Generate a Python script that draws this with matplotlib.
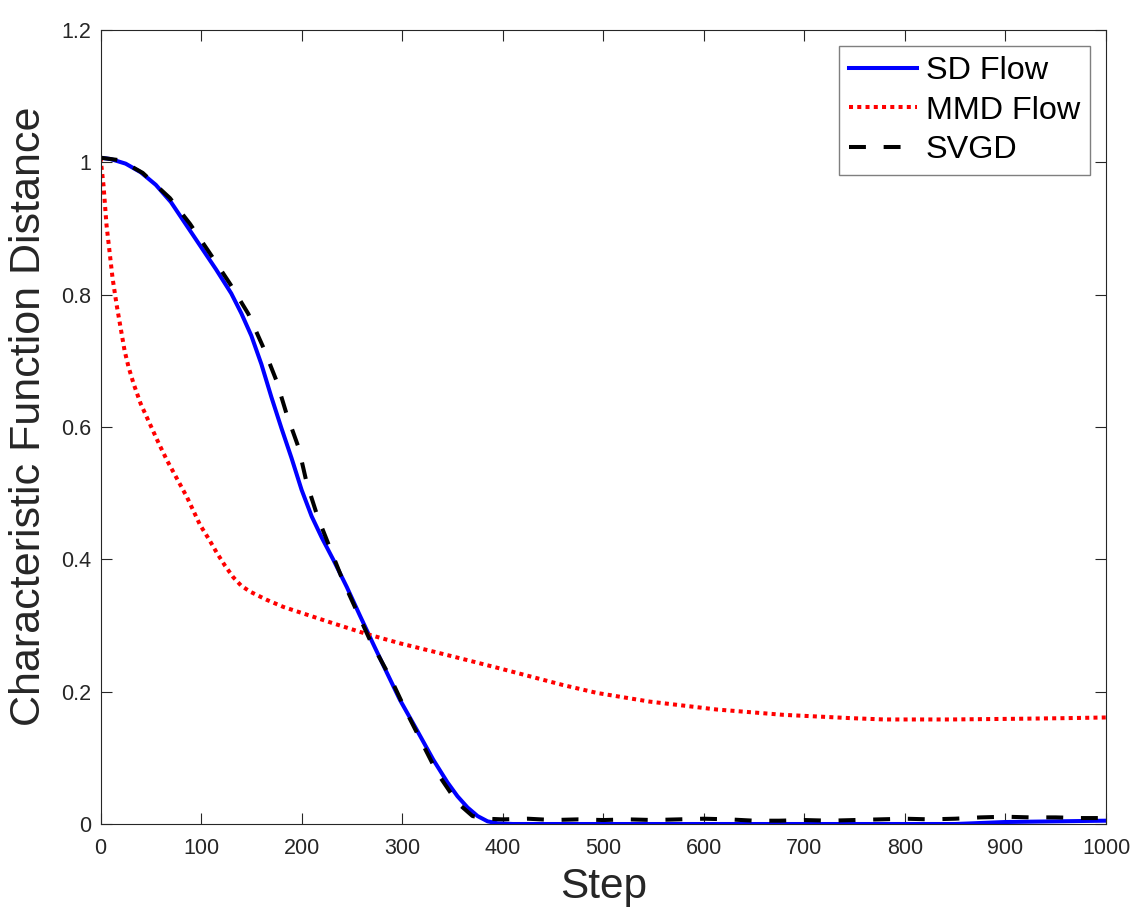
import matplotlib
matplotlib.use("Agg")
import matplotlib.pyplot as plt

# ---- data ----
sd_steps = [0, 10, 25, 40, 55, 70, 85, 100, 115, 130, 140, 150, 160, 170, 180,
            190, 200, 210, 220, 232, 245, 258, 270, 285, 298, 315, 331, 345, 355,
            365, 375, 385, 395, 410, 450, 500, 600, 700, 800, 850, 900, 950, 1000]
sd_vals = [1.007, 1.005, 0.998, 0.985, 0.966, 0.940, 0.906, 0.872, 0.838, 0.802,
           0.772, 0.738, 0.695, 0.645, 0.598, 0.553, 0.505, 0.465, 0.433, 0.398,
           0.358, 0.315, 0.276, 0.228, 0.187, 0.141, 0.097, 0.063, 0.042, 0.025,
           0.012, 0.004, 0.001, 0.0, 0.0, 0.0, 0.0, 0.0, 0.0, 0.0, 0.003, 0.004,
           0.005]

mmd_steps = [0, 3, 6, 9, 12, 16, 20, 24, 28, 33, 40, 49, 58, 66, 76, 86, 99, 108,
             116, 124, 132, 140, 149, 165, 182, 200, 232, 265, 298, 330, 364, 400,
             430, 460, 494, 546, 613, 679, 746, 779, 845, 911, 961, 1000]
mmd_vals = [1.007, 0.965, 0.905, 0.865, 0.825, 0.785, 0.750, 0.715, 0.690, 0.665,
            0.635, 0.605, 0.575, 0.550, 0.522, 0.494, 0.452, 0.430, 0.409, 0.390,
            0.373, 0.360, 0.351, 0.339, 0.328, 0.319, 0.303, 0.287, 0.273, 0.261,
            0.248, 0.234, 0.222, 0.210, 0.198, 0.185, 0.173, 0.165, 0.160, 0.158,
            0.158, 0.159, 0.160, 0.161]

svgd_steps = [0, 20, 42, 69, 89, 109, 129, 147, 162, 175, 185, 197, 205, 216, 228,
              241, 256, 268, 288, 305, 320, 335, 355, 370, 384, 400, 425, 450, 475,
              500, 525, 550, 575, 600, 625, 650, 675, 700, 725, 750, 775, 800, 825,
              850, 875, 900, 925, 950, 975, 1000]
svgd_vals = [1.007, 1.003, 0.984, 0.946, 0.907, 0.862, 0.816, 0.771, 0.720, 0.670,
             0.620, 0.569, 0.516, 0.464, 0.418, 0.368, 0.318, 0.278, 0.222, 0.167,
             0.122, 0.077, 0.032, 0.012, 0.008, 0.007, 0.008, 0.006, 0.007, 0.006,
             0.007, 0.006, 0.007, 0.008, 0.007, 0.005, 0.005, 0.006, 0.005, 0.006,
             0.007, 0.008, 0.007, 0.008, 0.010, 0.011, 0.010, 0.010, 0.009, 0.009]

x_ticks = [0, 100, 200, 300, 400, 500, 600, 700, 800, 900, 1000]
y_ticks = [0, 0.2, 0.4, 0.6, 0.8, 1.0, 1.2]
y_ticklabels = ["0", "0.2", "0.4", "0.6", "0.8", "1", "1.2"]

# ---- figure ----
plt.rcParams['font.family'] = ['Liberation Sans', 'DejaVu Sans']
fig = plt.figure(figsize=(11.31, 9.11), dpi=100)
ax = fig.add_axes([100.5 / 1131, 87 / 911, (1106 - 100.5) / 1131, (824 - 30) / 911])

lw = 2.9
ax.plot(sd_steps, sd_vals, color='#0000ff', lw=lw, label='SD Flow',
        solid_joinstyle='round')
ax.plot(mmd_steps, mmd_vals, color='#ff0000', lw=lw, label='MMD Flow',
        linestyle=(0, (1.0, 1.05)), dash_capstyle='butt')
ax.plot(svgd_steps, svgd_vals, color='black', lw=lw, label='SVGD',
        linestyle=(0, (4.2, 4.4)), dash_capstyle='butt')

ax.set_xlim(0, 1000)
ax.set_ylim(0, 1.2)
ax.set_xticks(x_ticks)
ax.set_yticks(y_ticks)
ax.set_yticklabels(y_ticklabels)

axcol = '#262626'
for s in ax.spines.values():
    s.set_color(axcol)
    s.set_linewidth(0.8)
ax.tick_params(direction='in', length=7.8, width=0.8, color=axcol,
               labelcolor=axcol, labelsize=15.5, top=True, right=True)
ax.tick_params(axis='x', pad=10)
ax.tick_params(axis='y', pad=7)

ax.set_xlabel('Step', fontsize=30.5, color=axcol)
ax.xaxis.set_label_coords(0.5, -0.054)
ax.set_ylabel('Characteristic Function Distance', fontsize=31, color=axcol)
ax.yaxis.set_label_coords(-0.051, 0.513)

leg = ax.legend(loc='upper right', fontsize=23.3, frameon=True, fancybox=False,
                edgecolor='#7f7f7f', framealpha=1, handlelength=2.1,
                handletextpad=0.28, borderpad=0.3, labelspacing=0.3,
                borderaxespad=0.5)
leg.get_frame().set_linewidth(1.0)

fig.savefig('out.png', dpi=100)
